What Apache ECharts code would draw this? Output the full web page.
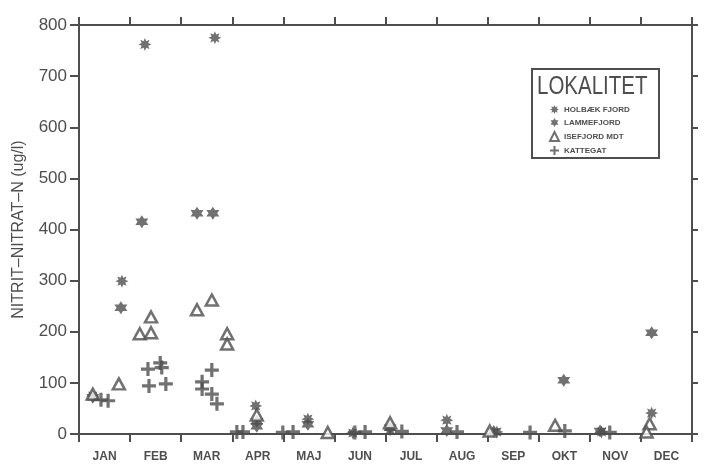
<!DOCTYPE html>
<html>
<head>
<meta charset="utf-8">
<script src="https://cdn.jsdelivr.net/npm/echarts@6/dist/echarts.min.js"></script>
<style>
  html, body { margin: 0; padding: 0; background: #fff; }
  #chart { width: 704px; height: 467px; }
</style>
</head>
<body>
<div id="chart"></div>
<script>
// Month labels along the bottom axis
const months = ['JAN', 'FEB', 'MAR', 'APR', 'MAJ', 'JUN', 'JUL', 'AUG', 'SEP', 'OKT', 'NOV', 'DEC'];
const yTicks = [0, 100, 200, 300, 400, 500, 600, 700, 800];

// Sampling time in months from 1 January, and measured NO2+NO3-N (ug/l)
const holbaekTime = [0.27, 0.84, 1.29, 2.66, 3.46, 4.48, 5.36, 6.09, 7.20, 8.18, 10.23, 11.21];
const holbaekVal  = [74, 299, 762, 775, 55, 29, 2, 8, 27, 4, 4, 41];

const lammeTime = [0.27, 0.82, 1.23, 2.31, 2.62, 3.48, 3.48, 4.48, 6.09, 7.20, 8.12, 9.49, 10.20, 11.21];
const lammeVal  = [72, 247, 415, 432, 432, 25, 15, 19, 12, 7, 5, 105, 6, 198];

const iseTime = [0.27, 0.78, 1.19, 1.41, 1.41, 2.31, 2.60, 2.90, 2.90, 3.48, 4.87, 6.09, 8.04, 9.32, 11.17, 11.11];
const iseVal  = [78, 98, 196, 198, 229, 243, 262, 196, 176, 37, 3, 22, 6, 17, 20, 4];

const kattegatTime = [0.43, 0.57, 1.35, 1.59, 1.62, 1.37, 1.70, 2.60, 2.41, 2.41, 2.60, 2.70, 3.09, 3.21, 3.99, 4.19, 5.40, 5.60, 6.32, 7.40, 8.83, 9.51, 10.39];
const kattegatVal  = [67, 65, 127, 139, 130, 94, 98, 125, 102, 88, 78, 59, 4, 4, 3, 4, 3, 4, 5, 4, 3, 6, 3];

const legendNames = ['HOLBÆK FJORD', 'LAMMEFJORD', 'ISEFJORD MDT', 'KATTEGAT'];

const INK = '#4e4e4e';

function pairs(t, v) { return t.map((x, i) => [x, v[i]]); }

// Symbol outlines
function starPath(points, rOut, rIn) {
  let d = '';
  for (let i = 0; i < points * 2; i++) {
    const r = i % 2 === 0 ? rOut : rIn;
    const a = Math.PI * i / points - Math.PI / 2;
    d += (i === 0 ? 'M' : 'L') + (r * Math.cos(a)).toFixed(2) + ',' + (r * Math.sin(a)).toFixed(2);
  }
  return 'path://' + d + 'Z';
}
const asterisk = starPath(8, 10, 5.5);
const hexagram = 'path://M0,-10L8.66,5L-8.66,5Z M0,10L-8.66,-5L8.66,-5Z';
const cross = 'path://M-1.6,-7L1.6,-7L1.6,-1.6L7,-1.6L7,1.6L1.6,1.6L1.6,7L-1.6,7L-1.6,1.6L-7,1.6L-7,-1.6L-1.6,-1.6Z';

const chart = echarts.init(document.getElementById('chart'), null, { renderer: 'canvas' });

const axisLine = { show: true, onZero: false, lineStyle: { color: INK, width: 2 } };

chart.setOption({
  backgroundColor: '#fff',
  animation: false,
  grid: { left: 79, right: 12, top: 25, bottom: 33, containLabel: false },
  xAxis: [
    {
      type: 'category',
      data: months,
      position: 'bottom',
      boundaryGap: true,
      axisLine: axisLine,
      axisTick: { show: true, inside: false, length: 8, alignWithLabel: false, lineStyle: { color: INK, width: 2 } },
      axisLabel: { color: INK, fontSize: 12, fontWeight: 'bold', fontFamily: 'Liberation Sans, sans-serif', margin: 17 },
      splitLine: { show: false }
    },
    {
      type: 'value',
      position: 'top',
      min: 0, max: 12, interval: 1,
      axisLine: axisLine,
      axisTick: { show: true, inside: false, length: 8, lineStyle: { color: INK, width: 2 } },
      axisLabel: { show: false },
      splitLine: { show: false }
    }
  ],
  yAxis: [
    {
      type: 'value',
      position: 'left',
      min: yTicks[0], max: yTicks[yTicks.length - 1], interval: 100,
      name: 'NITRIT–NITRAT–N (ug/l)',
      nameLocation: 'middle',
      nameGap: 52,
      nameRotate: 90,
      nameTextStyle: { color: INK, fontSize: 16, fontFamily: 'Liberation Sans, sans-serif' },
      axisLine: axisLine,
      axisTick: { show: true, length: 9, lineStyle: { color: INK, width: 2 } },
      axisLabel: { color: INK, fontSize: 17, margin: 12, fontFamily: 'Liberation Sans, sans-serif' },
      splitLine: { show: false }
    },
    {
      type: 'value',
      position: 'right',
      min: yTicks[0], max: yTicks[yTicks.length - 1], interval: 100,
      axisLine: axisLine,
      axisTick: { show: true, length: 6, lineStyle: { color: INK, width: 2 } },
      axisLabel: { show: false },
      splitLine: { show: false }
    }
  ],
  legend: {
    orient: 'vertical',
    left: 544,
    top: 100,
    itemGap: 4,
    itemWidth: 9,
    itemHeight: 9,
    z: 60,
    data: legendNames,
    textStyle: { color: INK, fontSize: 8, fontWeight: 'bold', fontFamily: 'Liberation Sans, sans-serif' }
  },
  graphic: [
    {
      type: 'rect',
      left: 531, top: 68,
      shape: { width: 127, height: 89 },
      style: { fill: '#fff', stroke: INK, lineWidth: 2 },
      z: 20
    },
    {
      type: 'text',
      x: 537, y: 75,
      scaleX: 0.82,
      style: { text: 'LOKALITET', fill: INK, fontSize: 25, fontFamily: 'Liberation Sans, sans-serif' },
      z: 21
    }
  ],
  series: [
    {
      name: legendNames[0], type: 'scatter', xAxisIndex: 1, yAxisIndex: 0,
      symbol: asterisk, symbolSize: 13,
      itemStyle: { color: INK },
      data: pairs(holbaekTime, holbaekVal), z: 3
    },
    {
      name: legendNames[1], type: 'scatter', xAxisIndex: 1, yAxisIndex: 0,
      symbol: hexagram, symbolSize: 13,
      itemStyle: { color: INK },
      data: pairs(lammeTime, lammeVal), z: 3
    },
    {
      name: legendNames[2], type: 'scatter', xAxisIndex: 1, yAxisIndex: 0,
      symbol: 'triangle', symbolSize: [12, 11],
      itemStyle: { color: '#fff', borderColor: INK, borderWidth: 2.5 },
      data: pairs(iseTime, iseVal), z: 4
    },
    {
      name: legendNames[3], type: 'scatter', xAxisIndex: 1, yAxisIndex: 0,
      symbol: cross, symbolSize: 14,
      itemStyle: { color: INK },
      data: pairs(kattegatTime, kattegatVal), z: 4
    }
  ]
});
</script>
</body>
</html>
